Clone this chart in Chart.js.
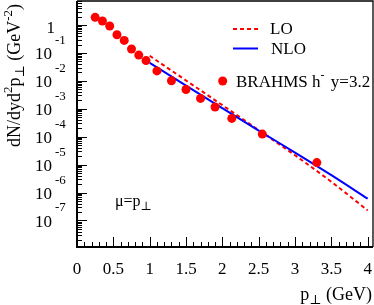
<!DOCTYPE html>
<html>
<head>
<meta charset="utf-8">
<script src="https://cdn.jsdelivr.net/npm/chart.js@4/dist/chart.umd.min.js"></script>
<style>
html, body { margin: 0; padding: 0; background: #fff; }
</style>
</head>
<body>
<canvas id="chart" width="374" height="305"></canvas>
<script>
// BRAHMS h- data, y = 3.2
const ptData = [0.25, 0.35, 0.45, 0.55, 0.65, 0.75, 0.85, 0.95, 1.1, 1.3, 1.5, 1.7, 1.9, 2.13, 2.55, 3.3];
const brahmsY = [1.89, 1.39, 0.92, 0.449, 0.282, 0.138, 0.0838, 0.0532, 0.0227, 0.0101, 0.00492, 0.00236, 0.00116, 4.51e-4, 1.24e-4, 1.18e-5];

// theory curves
const ptTheory = [1.0, 1.5, 2.0, 2.5, 3.0, 3.5, 4.0];
const loY = [0.0791, 0.01035, 1.345e-3, 1.73e-4, 2.16e-5, 2.42e-6, 2.29e-7];
const nloY = [0.0443, 6.73e-3, 1.05e-3, 1.66e-4, 2.70e-5, 4.20e-6, 6.03e-7];

// axis labels
const xTickValues = [0, 0.5, 1, 1.5, 2, 2.5, 3, 3.5, 4];
const xTickLabels = ["0", "0.5", "1", "1.5", "2", "2.5", "3", "3.5", "4"];
const yTickValues = [1, 1e-1, 1e-2, 1e-3, 1e-4, 1e-5, 1e-6, 1e-7];
const yTickExps = ["", "-1", "-2", "-3", "-4", "-5", "-6", "-7"];

const FONT = '"Liberation Serif", "DejaVu Serif", serif';

function setFont(ctx, size) {
    ctx.font = size + "px " + FONT;
}

// draw text made of pieces with their own size and vertical shift
function drawRich(ctx, parts, x, y, align) {
    let w = 0;
    parts.forEach((p) => {
        setFont(ctx, p.s);
        w += ctx.measureText(p.t).width + (p.gap || 0);
    });
    let cx = x;
    if (align === "right") cx = x - w;
    if (align === "center") cx = x - w / 2;
    parts.forEach((p) => {
        setFont(ctx, p.s);
        ctx.fillText(p.t, cx, y + (p.dy || 0));
        cx += ctx.measureText(p.t).width + (p.gap || 0);
    });
}

const axesPlugin = {
    id: "axes",
    afterDraw(chart) {
        const ctx = chart.ctx;
        const area = chart.chartArea;
        const xs = chart.scales.x;
        const ys = chart.scales.y;
        ctx.save();
        ctx.strokeStyle = "#000";
        ctx.fillStyle = "#000";

        // frame
        ctx.lineWidth = 1.3;
        ctx.beginPath();
        ctx.moveTo(area.left, area.top);
        ctx.lineTo(area.right, area.top);
        ctx.lineTo(area.right, area.bottom);
        ctx.stroke();
        ctx.lineWidth = 2;
        ctx.beginPath();
        ctx.moveTo(area.left, area.top);
        ctx.lineTo(area.left, area.bottom);
        ctx.lineTo(area.right, area.bottom);
        ctx.stroke();

        // x ticks (minor every 0.1)
        ctx.lineWidth = 1;
        for (let i = 0; i <= 40; i++) {
            const px = Math.round(xs.getPixelForValue(i / 10)) + 0.5;
            const len = i % 5 === 0 ? 10 : 5;
            ctx.beginPath();
            ctx.moveTo(px, area.bottom);
            ctx.lineTo(px, area.bottom - len);
            ctx.stroke();
        }

        // y ticks (log)
        for (let d = -8; d <= 0; d++) {
            for (let m = 1; m <= 9; m++) {
                const v = m * Math.pow(10, d);
                if (v < ys.min || v > ys.max) continue;
                const py = Math.round(ys.getPixelForValue(v)) + 0.5;
                const len = m === 1 ? 10 : 5;
                ctx.beginPath();
                ctx.moveTo(area.left, py);
                ctx.lineTo(area.left + len, py);
                ctx.stroke();
            }
        }

        // x labels
        ctx.textBaseline = "alphabetic";
        ctx.textAlign = "center";
        setFont(ctx, 17);
        xTickValues.forEach((v, i) => {
            ctx.fillText(xTickLabels[i], xs.getPixelForValue(v), 273.5);
        });

        // y labels
        ctx.textAlign = "left";
        yTickValues.forEach((v, i) => {
            const py = ys.getPixelForValue(v);
            if (yTickExps[i] === "") {
                drawRich(ctx, [{ t: "1", s: 17 }], 55, py + 8, "right");
            } else {
                drawRich(ctx, [{ t: "10", s: 17 }], 52, py + 6.5, "right");
                drawRich(ctx, [{ t: yTickExps[i], s: 13 }], 55, py - 9, "left");
            }
        });

        // x title
        drawRich(ctx, [
            { t: "p", s: 18 },
            { t: "\u22a5", s: 13, dy: 4 },
            { t: " (GeV)", s: 18 },
        ], 372, 300, "right");

        // y title
        ctx.save();
        ctx.translate(20, 147);
        ctx.rotate(-Math.PI / 2);
        drawRich(ctx, [
            { t: "dN/dyd", s: 18 },
            { t: "2", s: 13, dy: -8 },
            { t: "p", s: 18 },
            { t: "\u22a5", s: 13, dy: 4 },
            { t: " (GeV", s: 18 },
            { t: "-2", s: 13, dy: -8 },
            { t: ")", s: 18 },
        ], 0, 0, "left");
        ctx.restore();

        // scale label inside the plot
        drawRich(ctx, [
            { t: "\u03bc=p", s: 16 },
            { t: "\u22a5", s: 12, dy: 4 },
        ], 115, 206, "left");

        // legend
        ctx.lineWidth = 2;
        ctx.strokeStyle = "#ff0000";
        ctx.setLineDash([4, 3]);
        ctx.beginPath();
        ctx.moveTo(233, 29);
        ctx.lineTo(258, 29);
        ctx.stroke();
        ctx.setLineDash([]);
        ctx.strokeStyle = "#0000ff";
        ctx.beginPath();
        ctx.moveTo(233, 48.5);
        ctx.lineTo(258, 48.5);
        ctx.stroke();
        ctx.fillStyle = "#ff0000";
        ctx.beginPath();
        ctx.arc(222.7, 81, 4.5, 0, Math.PI * 2);
        ctx.fill();
        ctx.fillStyle = "#000";
        drawRich(ctx, [{ t: "LO", s: 17 }], 270, 34, "left");
        drawRich(ctx, [{ t: "NLO", s: 17 }], 271, 54, "left");
        drawRich(ctx, [
            { t: "BRAHMS h", s: 17 },
            { t: "-", s: 12, dy: -8, gap: 2 },
            { t: " y=3.2", s: 17 },
        ], 236, 87, "left");

        ctx.restore();
    },
};

const chart = new Chart(document.getElementById("chart"), {
    type: "line",
    data: {
        datasets: [
            {
                label: "BRAHMS h- y=3.2",
                data: ptData.map((x, i) => ({ x: x, y: brahmsY[i] })),
                showLine: false,
                pointRadius: 4.5,
                pointBackgroundColor: "#ff0000",
                pointBorderWidth: 0,
            },
            {
                label: "NLO",
                data: ptTheory.map((x, i) => ({ x: x, y: nloY[i] })),
                borderColor: "#0000ff",
                borderWidth: 2,
                pointRadius: 0,
                cubicInterpolationMode: "monotone",
            },
            {
                label: "LO",
                data: ptTheory.map((x, i) => ({ x: x, y: loY[i] })),
                borderColor: "#ff0000",
                borderWidth: 2,
                borderDash: [4, 3],
                pointRadius: 0,
                cubicInterpolationMode: "monotone",
            },
        ],
    },
    options: {
        responsive: false,
        animation: false,
        devicePixelRatio: 1,
        layout: { autoPadding: false, padding: { left: 77, right: 1, top: 1, bottom: 58 } },
        plugins: { legend: { display: false }, tooltip: { enabled: false } },
        scales: {
            x: { type: "linear", min: 0, max: 4.073, display: false },
            y: { type: "logarithmic", min: 1.12e-8, max: 7.26, display: false },
        },
    },
    plugins: [axesPlugin],
});
</script>
</body>
</html>
